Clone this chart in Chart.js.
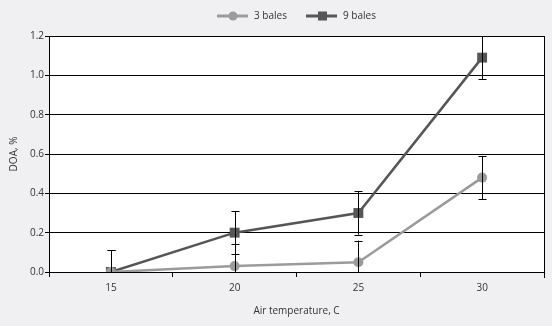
<!DOCTYPE html>
<html>
<head>
<meta charset="utf-8">
<script src="https://cdn.jsdelivr.net/npm/chart.js@4/dist/chart.umd.min.js"></script>
<style>
  html, body { margin: 0; padding: 0; background: #f0f0f2; }
  #wrap { width: 552px; height: 326px; }
</style>
</head>
<body>
<div id="wrap"><canvas id="doa"></canvas></div>
<script>
// Air temperature categories and DOA values
const temperatures = ['15', '20', '25', '30'];
const bales3 = [0.0, 0.03, 0.05, 0.48];
const bales9 = [0.0, 0.20, 0.30, 1.09];
const errors3 = [0.11, 0.11, 0.11, 0.11];
const errors9 = [0.11, 0.11, 0.11, 0.11];
const yTicks = [0.0, 0.2, 0.4, 0.6, 0.8, 1.0, 1.2];

const FONT = '"Open Sans", "Noto Sans", sans-serif';
const LIGHT = '#9b9b9b';
const DARK = '#565656';

// white plot area + frame on the right side
const plotBackground = {
    id: 'plotBackground',
    beforeDraw(chart) {
        const { ctx, chartArea: a } = chart;
        ctx.save();
        ctx.fillStyle = '#ffffff';
        ctx.fillRect(a.left, a.top, a.right - a.left, a.bottom - a.top);
        ctx.restore();
    },
    afterDraw(chart) {
        const { ctx, chartArea: a } = chart;
        ctx.save();
        ctx.strokeStyle = '#000';
        ctx.lineWidth = 1;
        ctx.beginPath();
        ctx.moveTo(Math.round(a.right) + 0.5, a.top);
        ctx.lineTo(Math.round(a.right) + 0.5, a.bottom + 6);
        ctx.stroke();
        ctx.restore();
    }
};

// vertical error bars with caps, one per point
const errorBars = {
    id: 'errorBars',
    afterDatasetsDraw(chart) {
        const { ctx, chartArea: a } = chart;
        const y = chart.scales.y;
        ctx.save();
        ctx.beginPath();
        ctx.rect(a.left, a.top - 4, a.right - a.left, a.bottom - a.top + 4);
        ctx.clip();
        ctx.strokeStyle = '#000';
        ctx.lineWidth = 1;
        chart.data.datasets.forEach((ds, i) => {
            const meta = chart.getDatasetMeta(i);
            meta.data.forEach((pt, j) => {
                const v = ds.data[j];
                const e = ds.errors[j];
                const x = Math.round(pt.x) + 0.5;
                const yt = y.getPixelForValue(v + e);
                const yb = y.getPixelForValue(v - e);
                ctx.beginPath();
                ctx.moveTo(x, yt);
                ctx.lineTo(x, yb);
                ctx.moveTo(x - 4, Math.round(yt) + 0.5);
                ctx.lineTo(x + 4, Math.round(yt) + 0.5);
                ctx.moveTo(x - 4, Math.round(yb) + 0.5);
                ctx.lineTo(x + 4, Math.round(yb) + 0.5);
                ctx.stroke();
            });
        });
        ctx.restore();
    }
};

// legend: line segment with marker, then label
const lineLegend = {
    id: 'lineLegend',
    afterDraw(chart) {
        const { ctx } = chart;
        const items = [
            { x: 217, label: '3 bales', color: LIGHT, style: 'circle' },
            { x: 306, label: '9 bales', color: DARK, style: 'rect' }
        ];
        const ly = 16;
        ctx.save();
        items.forEach(it => {
            ctx.strokeStyle = it.color;
            ctx.lineWidth = 3;
            ctx.beginPath();
            ctx.moveTo(it.x, ly);
            ctx.lineTo(it.x + 31, ly);
            ctx.stroke();
            ctx.fillStyle = it.color;
            if (it.style === 'circle') {
                ctx.beginPath();
                ctx.arc(it.x + 16, ly, 4.5, 0, Math.PI * 2);
                ctx.fill();
            } else {
                ctx.fillRect(it.x + 12, ly - 4.5, 9, 9);
            }
            ctx.fillStyle = '#333';
            ctx.font = '10px ' + FONT;
            ctx.textBaseline = 'middle';
            ctx.fillText(it.label, it.x + 37, ly);
        });
        ctx.restore();
    }
};

new Chart(document.getElementById('doa'), {
    type: 'line',
    data: {
        labels: temperatures,
        datasets: [
            {
                label: '3 bales',
                data: bales3,
                errors: errors3,
                borderColor: LIGHT,
                backgroundColor: LIGHT,
                borderWidth: 2.5,
                pointStyle: 'circle',
                pointRadius: 5,
                pointBorderWidth: 0,
                tension: 0
            },
            {
                label: '9 bales',
                data: bales9,
                errors: errors9,
                borderColor: DARK,
                backgroundColor: DARK,
                borderWidth: 2.5,
                pointStyle: 'rect',
                pointRadius: 7,
                pointBorderWidth: 0,
                tension: 0
            }
        ]
    },
    options: {
        responsive: true,
        maintainAspectRatio: false,
        animation: false,
        layout: { padding: { top: 36, right: 8, left: 4, bottom: 5 } },
        plugins: {
            legend: { display: false },
            tooltip: { enabled: false }
        },
        scales: {
            x: {
                offset: true,
                grid: {
                    offset: true,
                    drawOnChartArea: false,
                    color: '#000',
                    tickLength: 5
                },
                border: { color: '#000', width: 1 },
                ticks: {
                    color: '#333',
                    font: { family: FONT, size: 10 },
                    padding: 5
                },
                title: {
                    display: true,
                    text: 'Air temperature, C',
                    color: '#333',
                    font: { family: FONT, size: 10 },
                    padding: { top: 10 }
                },
                afterFit(scale) { scale.height = 49; }
            },
            y: {
                min: 0,
                max: 1.2,
                afterBuildTicks(scale) {
                    scale.ticks = yTicks.map(v => ({ value: v }));
                },
                grid: {
                    color: '#000',
                    lineWidth: 1,
                    tickLength: 4
                },
                border: { color: '#000', width: 1 },
                ticks: {
                    color: '#333',
                    font: { family: FONT, size: 10 },
                    padding: 1,
                    callback: v => Number(v).toFixed(1)
                },
                title: {
                    display: true,
                    text: 'DOA, %',
                    color: '#333',
                    font: { family: FONT, size: 10 },
                    padding: { bottom: 6 }
                },
                afterFit(scale) { scale.width = 45; }
            }
        }
    },
    plugins: [plotBackground, errorBars, lineLegend]
});
</script>
</body>
</html>
